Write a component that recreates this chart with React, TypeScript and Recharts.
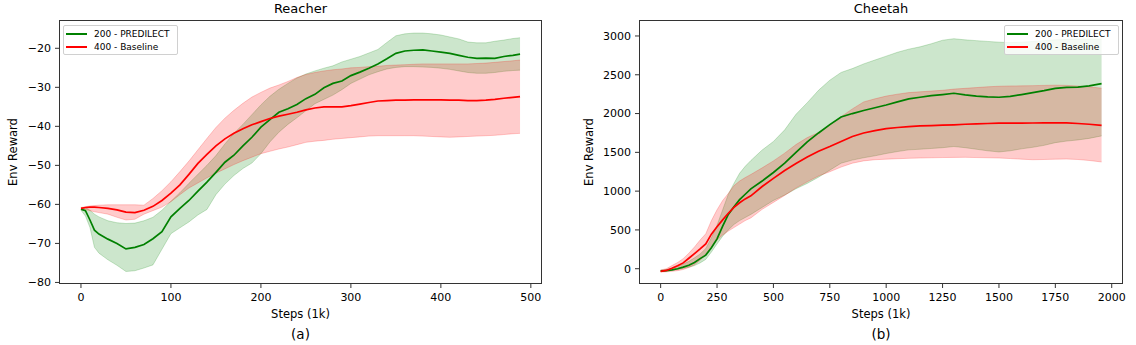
import React from 'react';
import { ComposedChart, Area, Line, XAxis, YAxis } from 'recharts';

const FONT = '"DejaVu Sans", sans-serif';
const GREEN = '#008000';
const RED = '#ff0000';
const SPINE = '#333';

// Reacher (a)
const reacherSteps = [0, 5, 10, 15, 20, 30, 40, 50, 60, 70, 80, 90, 100, 110, 120, 130, 140, 150, 160, 170, 180, 190, 200, 210, 220, 230, 240, 250, 260, 270, 280, 290, 300, 310, 320, 330, 340, 350, 360, 370, 380, 390, 400, 410, 420, 430, 440, 450, 460, 470, 480, 488];
const reacherPredMean = [-61.2, -61.6, -64, -66.6, -67.6, -68.9, -70, -71.4, -71, -70.3, -68.8, -67, -63.2, -61, -59, -56.6, -54.3, -51.8, -49.2, -47.4, -45, -42.8, -40.2, -38.3, -36.4, -35.5, -34.4, -32.9, -31.8, -30.1, -29, -28.4, -27, -26.1, -25.1, -24, -22.7, -21.3, -20.7, -20.5, -20.4, -20.7, -21, -21.3, -21.8, -22.3, -22.6, -22.5, -22.6, -22.1, -21.8, -21.5];
const reacherPredHigh = [-61, -60.8, -61.5, -62.5, -63.2, -64.2, -64.7, -64.9, -64.8, -64.2, -63.3, -61.5, -59.2, -57, -54.6, -52.3, -50, -47.5, -44.5, -41.8, -39.5, -37, -34.5, -32.3, -30.5, -29, -27.6, -26.6, -25.8, -25.1, -24.5, -23.5, -22.8, -22.1, -21.2, -20.3, -18.5, -16.8, -16.3, -16.1, -16.1, -16.3, -16.6, -17.1, -17.6, -18.4, -18.6, -18.6, -18.2, -17.9, -17.5, -17.3];
const reacherPredLow = [-61.5, -63, -65.9, -71, -72.5, -74.2, -75.6, -77.2, -77, -76.3, -75.5, -71.5, -67.5, -66, -64.5, -62.7, -61.3, -57.5, -54.8, -52.6, -50.8, -49.4, -47, -44, -41.5, -39.5, -37.8, -36, -34.2, -33.1, -32, -30.6, -29, -27.9, -26.8, -26, -25.3, -24.9, -24.7, -24.7, -24.8, -24.9, -25.1, -25.4, -25.8, -26.2, -26.4, -26.4, -26.2, -25.9, -25.7, -25.6];
const reacherBaseMean = [-61, -60.8, -60.7, -60.7, -60.8, -61, -61.4, -62, -62.1, -61.5, -60.5, -59, -57.1, -55, -52.3, -49.5, -47.2, -45, -43.2, -41.8, -40.6, -39.6, -38.8, -38, -37.4, -36.9, -36.4, -35.8, -35.3, -35, -35, -35, -34.7, -34.3, -33.9, -33.5, -33.4, -33.3, -33.3, -33.2, -33.2, -33.2, -33.2, -33.3, -33.3, -33.4, -33.4, -33.3, -33.1, -32.8, -32.6, -32.4];
const reacherBaseHigh = [-60.8, -60.6, -60.4, -60.3, -60.2, -60.1, -60.1, -60.1, -60.1, -60.2, -58.5, -56.5, -54.2, -51.6, -48.9, -46, -43.1, -40.3, -37.9, -35.9, -34.1, -32.5, -31.3, -30.2, -29.4, -28.5, -27.5, -26.7, -26.2, -25.8, -25.5, -25.3, -25, -24.9, -24.7, -24.6, -24.4, -24.3, -24.2, -24.1, -24, -24, -24, -24, -24, -24, -23.9, -23.8, -23.6, -23.4, -23.2, -23];
const reacherBaseLow = [-61, -61.3, -61.6, -61.9, -62.1, -62.5, -63.3, -64, -63.8, -62.5, -61.6, -60.7, -59.3, -57.5, -55.8, -54.5, -53.2, -52, -50.9, -49.8, -48.8, -47.9, -47, -46.4, -45.8, -45.3, -44.7, -44.1, -43.8, -43.6, -43.3, -43.1, -42.9, -42.7, -42.5, -42.4, -42.4, -42.4, -42.4, -42.4, -42.5, -42.6, -42.7, -42.8, -42.7, -42.6, -42.5, -42.4, -42.3, -42.1, -41.9, -41.8];
const reacherXTicks = [0, 100, 200, 300, 400, 500];
const reacherYTicks = [-80, -70, -60, -50, -40, -30, -20];

// Cheetah (b)
const cheetahSteps = [0, 25, 50, 75, 100, 125, 150, 175, 200, 225, 250, 275, 300, 325, 350, 375, 400, 450, 500, 550, 600, 650, 700, 750, 800, 850, 900, 950, 1000, 1050, 1100, 1150, 1200, 1250, 1300, 1350, 1400, 1450, 1500, 1550, 1600, 1650, 1700, 1750, 1800, 1850, 1900, 1955];
const cheetahPredMean = [-30, -25, -15, 0, 20, 45, 80, 130, 175, 270, 385, 550, 700, 800, 890, 960, 1030, 1130, 1240, 1360, 1500, 1635, 1750, 1858, 1955, 2000, 2040, 2075, 2110, 2150, 2190, 2210, 2230, 2245, 2262, 2240, 2225, 2215, 2210, 2222, 2245, 2270, 2295, 2325, 2338, 2342, 2358, 2385];
const cheetahPredHigh = [-17, -10, 5, 30, 60, 95, 140, 190, 260, 400, 560, 760, 960, 1100, 1230, 1320, 1395, 1530, 1640, 1790, 1990, 2140, 2300, 2430, 2530, 2580, 2640, 2690, 2740, 2790, 2830, 2860, 2900, 2945, 2965, 2950, 2940, 2930, 2920, 2915, 2920, 2930, 2940, 2950, 2955, 2960, 2960, 2960];
const cheetahPredLow = [-30, -28, -22, -10, 5, 20, 40, 75, 120, 215, 320, 420, 500, 570, 620, 660, 700, 790, 880, 950, 1030, 1100, 1180, 1270, 1360, 1400, 1430, 1455, 1485, 1510, 1532, 1540, 1550, 1560, 1575, 1560, 1540, 1520, 1505, 1520, 1545, 1565, 1590, 1625, 1645, 1660, 1680, 1712];
const cheetahBaseMean = [-35, -22, 5, 38, 75, 135, 195, 255, 320, 445, 540, 630, 715, 790, 850, 900, 940, 1060, 1165, 1265, 1355, 1440, 1515, 1575, 1640, 1705, 1750, 1780, 1805, 1820, 1832, 1840, 1845, 1850, 1855, 1862, 1868, 1872, 1876, 1877, 1877, 1878, 1880, 1881, 1879, 1872, 1862, 1847];
const cheetahBaseHigh = [-17, 0, 40, 80, 130, 200, 280, 370, 450, 620, 760, 880, 970, 1070, 1130, 1175, 1215, 1300, 1390, 1490, 1600, 1690, 1755, 1850, 1960, 2060, 2150, 2190, 2225, 2250, 2270, 2280, 2290, 2300, 2315, 2325, 2335, 2345, 2352, 2356, 2357, 2360, 2363, 2366, 2363, 2355, 2345, 2327];
const cheetahBaseLow = [-43, -40, -33, -25, -10, 15, 50, 110, 180, 280, 370, 435, 485, 530, 575, 620, 655, 765, 855, 945, 1040, 1120, 1195, 1250, 1310, 1360, 1390, 1405, 1412, 1418, 1423, 1427, 1430, 1433, 1435, 1436, 1433, 1430, 1427, 1420, 1412, 1405, 1408, 1412, 1414, 1408, 1395, 1376];
const cheetahXTicks = [0, 250, 500, 750, 1000, 1250, 1500, 1750, 2000];
const cheetahYTicks = [0, 500, 1000, 1500, 2000, 2500, 3000];

const seriesNames = ['200 - PREDILECT', '400 - Baseline'];
const seriesColors = [GREEN, RED];

function buildRows(steps: number[], pm: number[], pl: number[], ph: number[], bm: number[], bl: number[], bh: number[]) {
  return steps.map((s, i) => ({
    step: s,
    predMean: pm[i],
    predBand: [pl[i], ph[i]],
    baseMean: bm[i],
    baseBand: [bl[i], bh[i]],
  }));
}

const minus = (v: number) => String(v).replace('-', '\u2212');

const tickStyle = { fill: '#000', fontSize: 11, fontFamily: FONT };

interface PanelProps {
  left: number;
  title: string;
  tag: string;
  rows: Array<Record<string, unknown>>;
  xDomain: [number, number];
  xTicks: number[];
  yDomain: [number, number];
  yTicks: number[];
  plotLeft: number;
  plotRight: number;
  yLabelX: number;
  legendLeft: number;
}

const W = 568;
const H = 345;
const PLOT_TOP = 20;
const PLOT_BOTTOM = 284;
const X_AXIS_H = 25;
const Y_AXIS_W = 40;

function Legend({ left }: { left: number }) {
  return (
    <div
      style={{
        position: 'absolute',
        left,
        top: 25,
        width: 115,
        height: 30,
        boxSizing: 'border-box',
        border: '1px solid #d0d0d0',
        borderRadius: 2,
        background: 'rgba(255,255,255,0.8)',
        fontFamily: FONT,
        fontSize: 9,
        color: '#000',
      }}
    >
      {seriesNames.map((name, i) => (
        <div key={name} style={{ position: 'absolute', left: 2, top: 1 + i * 13.5, height: 13, display: 'flex', alignItems: 'center', whiteSpace: 'nowrap' }}>
          <div style={{ width: 21, height: 2, background: seriesColors[i], marginRight: 7 }} />
          <span>{name}</span>
        </div>
      ))}
    </div>
  );
}

function Panel(p: PanelProps) {
  const centerX = (p.plotLeft + p.plotRight) / 2;
  const text: React.CSSProperties = { position: 'absolute', fontFamily: FONT, color: '#000', whiteSpace: 'nowrap', transform: 'translate(-50%, -50%)', lineHeight: 1 };
  return (
    <div style={{ position: 'absolute', left: p.left, top: 0, width: W, height: H }}>
      <ComposedChart
        width={W}
        height={H}
        data={p.rows}
        margin={{ top: PLOT_TOP, right: W - p.plotRight, bottom: H - PLOT_BOTTOM - X_AXIS_H, left: p.plotLeft - Y_AXIS_W }}
      >
        <XAxis
          dataKey="step"
          type="number"
          domain={p.xDomain}
          ticks={p.xTicks}
          allowDataOverflow
          height={X_AXIS_H}
          tick={tickStyle}
          tickSize={4}
          tickMargin={5}
          axisLine={false}
          tickLine={{ stroke: SPINE }}
        />
        <YAxis
          type="number"
          domain={p.yDomain}
          ticks={p.yTicks}
          allowDataOverflow
          width={Y_AXIS_W}
          tick={tickStyle}
          tickFormatter={minus}
          tickSize={4}
          tickMargin={4}
          axisLine={false}
          tickLine={{ stroke: SPINE }}
        />
        <Area type="linear" dataKey="predBand" stroke={GREEN} strokeOpacity={0.2} fill={GREEN} fillOpacity={0.2} isAnimationActive={false} />
        <Line type="linear" dataKey="predMean" stroke={GREEN} strokeWidth={1.7} dot={false} isAnimationActive={false} />
        <Area type="linear" dataKey="baseBand" stroke={RED} strokeOpacity={0.2} fill={RED} fillOpacity={0.2} isAnimationActive={false} />
        <Line type="linear" dataKey="baseMean" stroke={RED} strokeWidth={1.7} dot={false} isAnimationActive={false} />
      </ComposedChart>
      <svg width={W} height={H} style={{ position: 'absolute', left: 0, top: 0, pointerEvents: 'none' }}>
        <rect x={p.plotLeft + 0.5} y={PLOT_TOP + 0.5} width={p.plotRight - p.plotLeft - 1} height={PLOT_BOTTOM - PLOT_TOP - 1} fill="none" stroke={SPINE} strokeWidth={1} />
      </svg>
      <div style={{ ...text, left: centerX, top: 8, fontSize: 13 }}>{p.title}</div>
      <div style={{ ...text, left: centerX, top: 315, fontSize: 11.5 }}>Steps (1k)</div>
      <div style={{ ...text, left: centerX, top: 335, fontSize: 13.5 }}>{p.tag}</div>
      <div style={{ ...text, left: p.yLabelX, top: (PLOT_TOP + PLOT_BOTTOM) / 2, fontSize: 11.5, transform: 'translate(-50%, -50%) rotate(-90deg)' }}>Env Reward</div>
      <Legend left={p.legendLeft} />
    </div>
  );
}

export default function App() {
  const reacherRows = buildRows(reacherSteps, reacherPredMean, reacherPredLow, reacherPredHigh, reacherBaseMean, reacherBaseLow, reacherBaseHigh);
  const cheetahRows = buildRows(cheetahSteps, cheetahPredMean, cheetahPredLow, cheetahPredHigh, cheetahBaseMean, cheetahBaseLow, cheetahBaseHigh);
  return (
    <div style={{ position: 'fixed', left: 0, top: 0, width: 1136, height: 345, background: '#fff', overflow: 'hidden' }}>
      <Panel
        left={0}
        title="Reacher"
        tag="(a)"
        rows={reacherRows}
        xDomain={[-24.4, 512.4]}
        xTicks={reacherXTicks}
        yDomain={[-80.4, -12.75]}
        yTicks={reacherYTicks}
        plotLeft={59}
        plotRight={542}
        yLabelX={14}
        legendLeft={63}
      />
      <Panel
        left={568}
        title="Cheetah"
        tag="(b)"
        rows={cheetahRows}
        xDomain={[-96, 2050]}
        xTicks={cheetahXTicks}
        yDomain={[-197, 3206]}
        yTicks={cheetahYTicks}
        plotLeft={71}
        plotRight={555}
        yLabelX={22}
        legendLeft={436}
      />
    </div>
  );
}
